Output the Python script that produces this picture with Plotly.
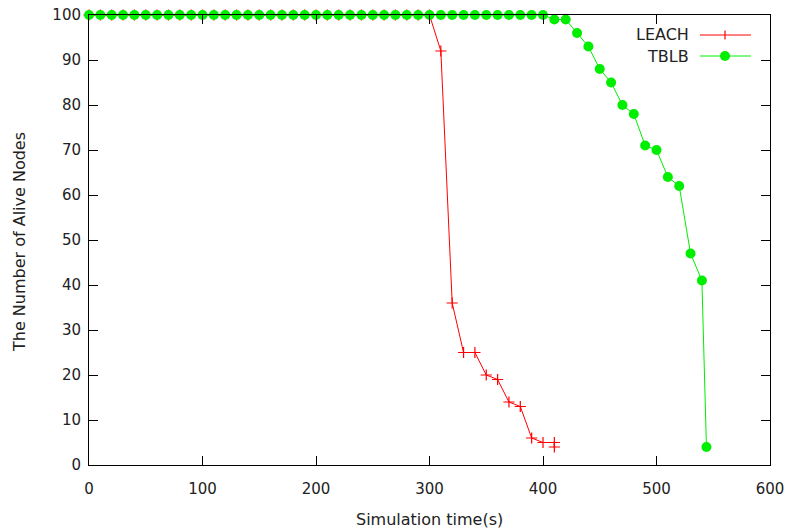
import plotly.graph_objects as go

# ---- data ----
leach_time = [0, 10, 20, 30, 40, 50, 60, 70, 80, 90, 100, 110, 120, 130, 140, 150,
              160, 170, 180, 190, 200, 210, 220, 230, 240, 250, 260, 270, 280, 290, 300,
              310, 320, 330, 340, 350, 360, 370, 380, 390, 400, 410, 410]
leach_alive = [100, 100, 100, 100, 100, 100, 100, 100, 100, 100, 100, 100, 100, 100, 100, 100,
               100, 100, 100, 100, 100, 100, 100, 100, 100, 100, 100, 100, 100, 100, 100,
               92, 36, 25, 25, 20, 19, 14, 13, 6, 5, 5, 4]

tblb_time = [0, 10, 20, 30, 40, 50, 60, 70, 80, 90, 100, 110, 120, 130, 140, 150,
             160, 170, 180, 190, 200, 210, 220, 230, 240, 250, 260, 270, 280, 290, 300,
             310, 320, 330, 340, 350, 360, 370, 380, 390, 400, 410, 420, 430, 440, 450,
             460, 470, 480, 490, 500, 510, 520, 530, 540, 544]
tblb_alive = [100, 100, 100, 100, 100, 100, 100, 100, 100, 100, 100, 100, 100, 100, 100, 100,
              100, 100, 100, 100, 100, 100, 100, 100, 100, 100, 100, 100, 100, 100, 100,
              100, 100, 100, 100, 100, 100, 100, 100, 100, 100, 99, 99, 96, 93, 88,
              85, 80, 78, 71, 70, 64, 62, 47, 41, 4]

series_names = ["LEACH", "TBLB"]
x_ticks = [0, 100, 200, 300, 400, 500, 600]
y_ticks = [0, 10, 20, 30, 40, 50, 60, 70, 80, 90, 100]
x_title = "Simulation time(s)"
y_title = "The Number of Alive Nodes"

RED = "#ff0000"
GREEN = "#00ee00"
FONT = "DejaVu Sans"
TXT = "#222"
FS = 15
FS_T = 16

fig = go.Figure()
fig.add_trace(go.Scatter(
    x=leach_time, y=leach_alive, name=series_names[0], mode="lines+markers",
    line=dict(color=RED, width=1),
    marker=dict(symbol="cross-thin", size=8, line=dict(color=RED, width=1.2), color=RED),
    cliponaxis=False, showlegend=False, hoverinfo="skip"))
fig.add_trace(go.Scatter(
    x=tblb_time, y=tblb_alive, name=series_names[1], mode="lines+markers",
    line=dict(color=GREEN, width=1),
    marker=dict(symbol="circle", size=10, color=GREEN),
    cliponaxis=False, showlegend=False, hoverinfo="skip"))

# plot area geometry (pixels)
L, R, T, B = 89, 17, 15, 66
W, H = 787, 531
pw, ph = W - L - R, H - T - B


def px(xp):
    return (xp - L) / pw


def py(yp):
    return (H - B - yp) / ph


shapes = []
annotations = []
# custom gnuplot-style legend: text left, sample right
for i, (name, col) in enumerate(zip(series_names, [RED, GREEN])):
    yy = 35 + i * 21
    annotations.append(dict(x=px(691), y=py(yy), xref="paper", yref="paper",
                            text=name, showarrow=False, xanchor="right", yanchor="middle",
                            font=dict(family=FONT, size=FS_T, color=TXT)))
    shapes.append(dict(type="line", xref="paper", yref="paper",
                       x0=px(700), x1=px(751), y0=py(yy), y1=py(yy),
                       line=dict(color=col, width=1)))
    if i == 0:
        shapes.append(dict(type="line", xref="paper", yref="paper",
                           x0=px(725), x1=px(725), y0=py(yy - 4.5), y1=py(yy + 4.5),
                           line=dict(color=col, width=1.2)))
    else:
        shapes.append(dict(type="circle", xref="paper", yref="paper",
                           x0=px(720), x1=px(730), y0=py(yy - 5), y1=py(yy + 5),
                           fillcolor=col, line=dict(color=col, width=0)))

# axis titles
annotations.append(dict(x=px(429), y=py(519), xref="paper", yref="paper", text=x_title,
                        showarrow=False, xanchor="center", yanchor="middle",
                        font=dict(family=FONT, size=FS_T, color=TXT)))
annotations.append(dict(x=px(19), y=py(242), xref="paper", yref="paper", text=y_title,
                        showarrow=False, xanchor="center", yanchor="middle", textangle=-90,
                        font=dict(family=FONT, size=FS_T, color=TXT)))

axis_common = dict(
    showline=True, linecolor="black", linewidth=1, mirror="allticks",
    ticks="inside", ticklen=9, tickcolor="black", tickwidth=1,
    showgrid=False, zeroline=False, automargin=False,
    tickfont=dict(family=FONT, size=FS, color=TXT),
)

fig.update_layout(
    width=W, height=H,
    margin=dict(l=L, r=R, t=T, b=B),
    paper_bgcolor="white", plot_bgcolor="white",
    font=dict(family=FONT, size=FS, color=TXT),
    xaxis=dict(range=[0, 600], tickvals=x_ticks, ticktext=[str(v) for v in x_ticks],
               ticklabelstandoff=10, **axis_common),
    yaxis=dict(range=[0, 100], tickvals=y_ticks, ticktext=[str(v) for v in y_ticks],
               ticklabelstandoff=4, **axis_common),
    shapes=shapes, annotations=annotations,
    showlegend=False,
)

fig.write_html(
    "out.html",
    config={"displayModeBar": False, "staticPlot": True},
    post_script="document.body.style.margin='0';document.body.style.padding='0';"
                "document.body.style.overflow='hidden';",
)
